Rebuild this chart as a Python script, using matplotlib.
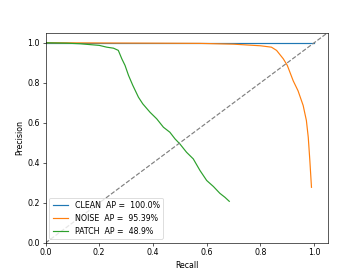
import matplotlib
matplotlib.use('Agg')
import matplotlib.pyplot as plt
import numpy as np

# precision / recall curves
clean_recall = [0.0, 1.0]
clean_precision = [1.0, 1.0]

noise_recall = [0.0, 0.2, 0.4, 0.575, 0.7, 0.8, 0.841, 0.86, 0.885, 0.90, 0.922,
                0.94, 0.959, 0.971, 0.978, 0.984, 0.99]
noise_precision = [1.0, 0.999, 0.998, 0.997, 0.993, 0.985, 0.978, 0.962, 0.92, 0.887,
                   0.81, 0.76, 0.687, 0.612, 0.528, 0.41, 0.278]

patch_recall = [0.0, 0.08, 0.13, 0.155, 0.2, 0.228, 0.253, 0.271, 0.284, 0.296, 0.309,
                0.325, 0.346, 0.362, 0.389, 0.414, 0.439, 0.463, 0.482, 0.5, 0.525,
                0.55, 0.575, 0.6, 0.625, 0.649, 0.668, 0.684]
patch_precision = [1.0, 0.998, 0.995, 0.992, 0.987, 0.978, 0.973, 0.962, 0.92, 0.887,
                   0.837, 0.787, 0.728, 0.695, 0.653, 0.62, 0.578, 0.553, 0.52, 0.495,
                   0.453, 0.42, 0.362, 0.312, 0.282, 0.248, 0.228, 0.208]

labels = ['CLEAN  AP =  100.0%', 'NOISE  AP =  95.39%', 'PATCH  AP =  48.9%']


def make_pr_graph(ofile):
    plt.figure(figsize=(6.4, 4.8), dpi=56.875)

    plt.plot(clean_recall, clean_precision, label=labels[0])
    plt.plot(noise_recall, noise_precision, label=labels[1])
    plt.plot(patch_recall, patch_precision, label=labels[2])
    plt.plot([0, 1.05], [0, 1.05], '--', color='gray')

    plt.xlim(0, 1.05)
    plt.ylim(0, 1.05)
    plt.xticks(np.arange(0, 1.01, 0.2))
    plt.yticks(np.arange(0, 1.01, 0.2))
    plt.xlabel('Recall')
    plt.ylabel('Precision')
    plt.legend(loc='lower left')
    plt.savefig(ofile, dpi=56.875)
    plt.close()


make_pr_graph('out.png')
